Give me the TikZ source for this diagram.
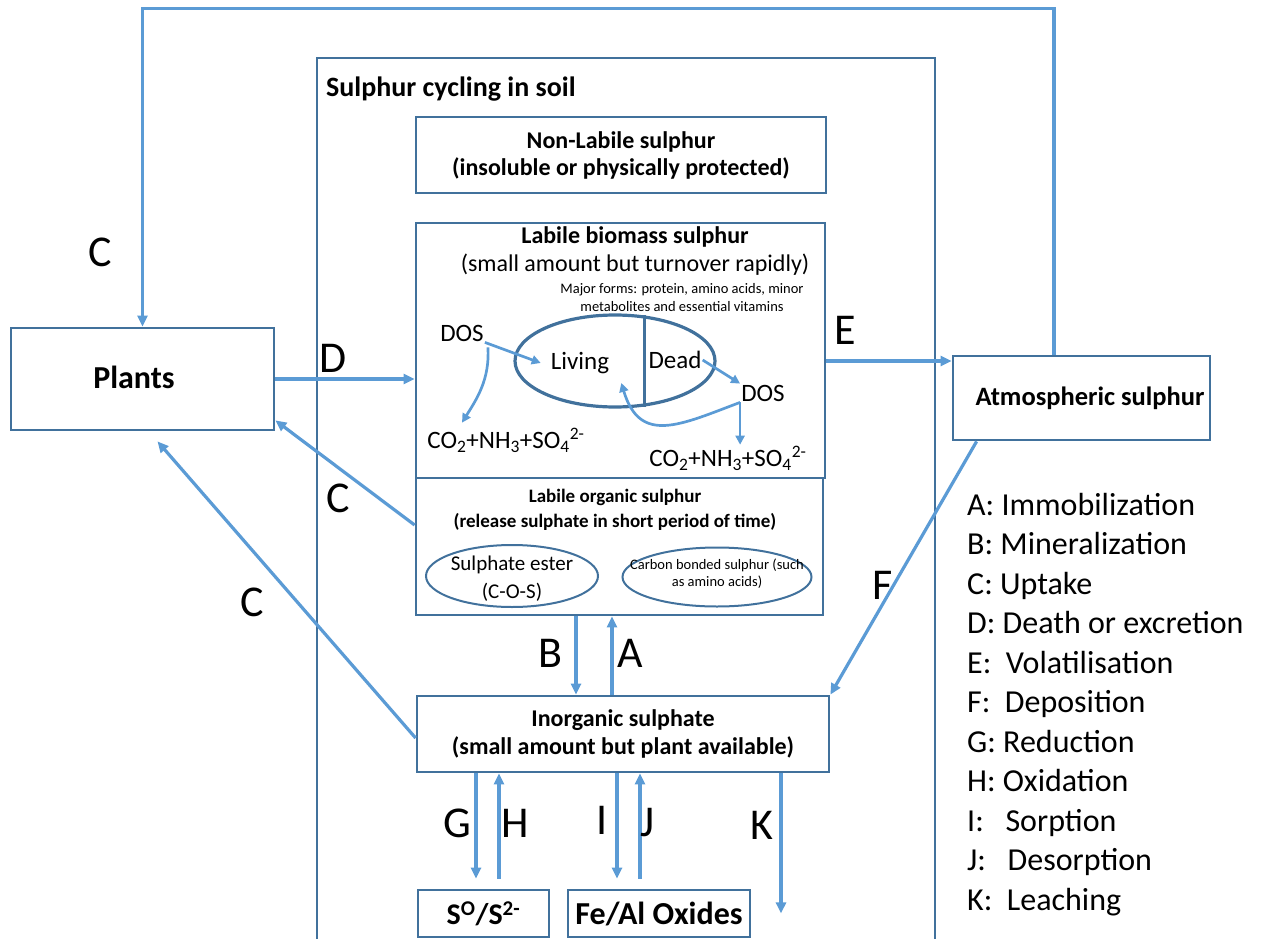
\documentclass[tikz,border=0pt]{standalone}
\usepackage{fontspec}
\setmainfont{Carlito}
\usetikzlibrary{arrows.meta,shapes.geometric}
\definecolor{flowblue}{RGB}{91,155,213}
\definecolor{boxblue}{RGB}{65,113,156}
\tikzset{
	box/.style = {draw = boxblue, line width = 2.8pt, rectangle, inner sep = 0pt},
	flow/.style = {draw = flowblue, line width = 3.2pt, -{Triangle[length = 11pt, width = 10pt]}},
	smallflow/.style = {draw = flowblue, line width = 2.7pt, -{Triangle[length = 9pt, width = 9pt]}},
	letter/.style = {font = \fontsize{44}{44}\selectfont, inner sep = 0pt},
	intext/.style = {font = \fontsize{25}{25}\selectfont, inner sep = 1pt},
	keytext/.style = {font = \fontsize{32}{32}\selectfont, inner sep = 0pt},
	blob/.style = {draw = boxblue, line width = 2pt, ellipse, inner sep = 0pt}
}
\begin{document}
\begin{tikzpicture}[x = 1pt, y = -1pt]
\useasboundingbox (0,0) rectangle (1263,939);

\draw[boxblue, line width = 2.5pt] (317,939) -- (317,58) -- (935,58) -- (935,939);
\node[anchor = base west, inner sep = 0pt, font = \bfseries\fontsize{28}{28}\selectfont] (soiltitle) at (326,97) {Sulphur cycling in soil};

\node[box, minimum width = 263pt, minimum height = 102pt] (plants) at (142.5,379) {};
\node[font = \bfseries\fontsize{32}{32}\selectfont, inner sep = 0pt] (plantstext) at (134,377) {Plants};
\node[box, minimum width = 257pt, minimum height = 84pt] (atmos) at (1081.5,398) {};
\node[font = \bfseries\fontsize{26.5}{26.5}\selectfont, inner sep = 0pt] (atmostext) at (1090,398) {Atmospheric sulphur};
\node[box, minimum width = 410pt, minimum height = 76pt, align = center, font = \bfseries\fontsize{24}{27}\selectfont] (nonlab) at (621,155) {Non-Labile sulphur\\(insoluble or physically protected)};
\node[box, minimum width = 409pt, minimum height = 255pt] (biomass) at (620.5,350.5) {};
\node[box, minimum width = 407pt, minimum height = 137pt] (organic) at (619.5,546.5) {};
\node[box, minimum width = 412pt, minimum height = 76pt, align = center, font = \bfseries\fontsize{24}{28}\selectfont] (inorg) at (623,734) {Inorganic sulphate\\(small amount but plant available)};
\node[box, minimum width = 131pt, minimum height = 47pt, font = \bfseries\fontsize{30}{30}\selectfont] (sbox) at (483.5,913.5) {S\textsuperscript{O}/S\textsuperscript{2-}};
\node[box, minimum width = 182pt, minimum height = 47pt, font = \bfseries\fontsize{32}{32}\selectfont] (feal) at (659,913.5) {Fe/Al Oxides};

\node[font = \bfseries\fontsize{24}{24}\selectfont, inner sep = 0pt] (biotitle) at (635,237) {Labile biomass sulphur};
\node[font = \fontsize{24}{24}\selectfont, inner sep = 0pt] (biosub) at (635,265) {(small amount but turnover rapidly)};
\node[align = center, font = \fontsize{14.5}{18}\selectfont, inner sep = 0pt] (majorforms) at (682,298) {Major forms: protein, amino acids, minor\\metabolites and essential vitamins};

\node[draw = boxblue, line width = 3.2pt, ellipse, minimum width = 200pt, minimum height = 92pt, inner sep = 0pt] (cell) at (615,361) {};
\draw[boxblue, line width = 2.8pt] (cell.57.5) -- (cell.-57.5);
\node[intext] (living) at (580,363) {Living};
\node[intext] (dead) at (675,360) {Dead};
\node[intext] (dosL) at (462,333) {DOS};
\node[intext] (dosR) at (763,393) {DOS};
\node[intext] (co2L) at (506,440) {CO\textsubscript{2}+NH\textsubscript{3}+SO\textsubscript{4}\textsuperscript{2-}};
\node[intext] (co2R) at (728,458) {CO\textsubscript{2}+NH\textsubscript{3}+SO\textsubscript{4}\textsuperscript{2-}};

\draw[smallflow] (dosL.south east) -- ([xshift = -9pt]living.west);
\draw[smallflow] ([xshift = 3pt, yshift = -5pt]dosL.south east) .. controls (490,380) and (476,400) .. ([xshift = -44pt, yshift = 4pt]co2L.north);
\draw[smallflow] (dead.east) -- (dosR.north west);
\draw[smallflow] (dosR.south west) -- (dosR.south west |- co2R.north);
\draw[smallflow] (dosR.south west) .. controls (680,425) and (640,445) .. ([xshift = 11pt, yshift = -8pt]living.south east);

\node[align = center, font = \bfseries\fontsize{19}{25}\selectfont, inner sep = 0pt] (orgtitle) at (615,509.5) {Labile organic sulphur\\(release sulphate in short period of time)};
\node[blob, minimum width = 172pt, minimum height = 62pt] (ester) at (512,576) {};
\node[align = center, font = \fontsize{21}{28}\selectfont, inner sep = 0pt] (estertext) at (512,579) {Sulphate ester\\(C-O-S)};
\node[blob, minimum width = 189pt, minimum height = 59pt] (carbon) at (717,577) {};
\node[align = center, font = \fontsize{14.5}{17}\selectfont, inner sep = 0pt] (carbontext) at (717,574) {Carbon bonded sulphur (such\\as amino acids)};

\draw[flow] ([xshift = -27.5pt]atmos.north) -- ++(0,-346) -| (plants.north);
\draw[flow] (plants.east) -- (plants.east -| biomass.west);
\coordinate (ex) at ([yshift = -10.5pt]biomass.east);
\draw[flow] (ex) -- (ex -| atmos.west);
\draw[flow] ([yshift = 21.5pt]organic.west) -- ([yshift = 11pt]plants.south east);
\draw[flow] ([yshift = -4pt]inorg.west) -- ([xshift = 15pt, yshift = -10pt]plants.south);
\draw[flow] ([xshift = 25pt]atmos.south west) -- (inorg.north east);

\coordinate (bx) at ([xshift = -43.5pt]organic.south);
\coordinate (ax) at ([xshift = -7.5pt]organic.south);
\draw[flow] (bx) -- (bx |- inorg.north);
\draw[flow] (ax |- inorg.north) -- (ax);

\foreach \name/\dx in {g/-147, h/-124, i/-6, j/17, k/158}
	\coordinate (\name x) at ([xshift = \dx pt]inorg.south);
\draw[flow, shorten >= 10pt] (gx) -- (gx |- sbox.north);
\draw[flow, shorten <= 10pt] (hx |- sbox.north) -- (hx);
\draw[flow, shorten >= 10pt] (ix) -- (ix |- feal.north);
\draw[flow, shorten <= 10pt] (jx |- feal.north) -- (jx);
\draw[flow] (kx) -- ++(0,140);

\foreach \name/\lbl/\px/\py in {ctop/C/100/252, d/D/333/358, cmid/C/338/498, clow/C/252/602, e/E/845/330, f/F/883/585, b/B/550/653, a/A/630/653, g/G/457/823, h/H/515/823, i/I/602/820, j/J/648/823, k/K/762/825}
	\node[letter] (lbl\name) at (\px,\py) {\lbl};

\foreach \txt [count = \i] in {A: Immobilization, B: Mineralization, C: Uptake, D: Death or excretion, E:\ \ Volatilisation, F:\ \ Deposition, G: Reduction, H: Oxidation, I:\ \ \ Sorption, J:\ \ \ Desorption, K:\ \ Leaching}
	\node[keytext, anchor = base west] (key\i) at (967,{475.5 + 39.5 * \i}) {\txt};

\end{tikzpicture}
\end{document}
